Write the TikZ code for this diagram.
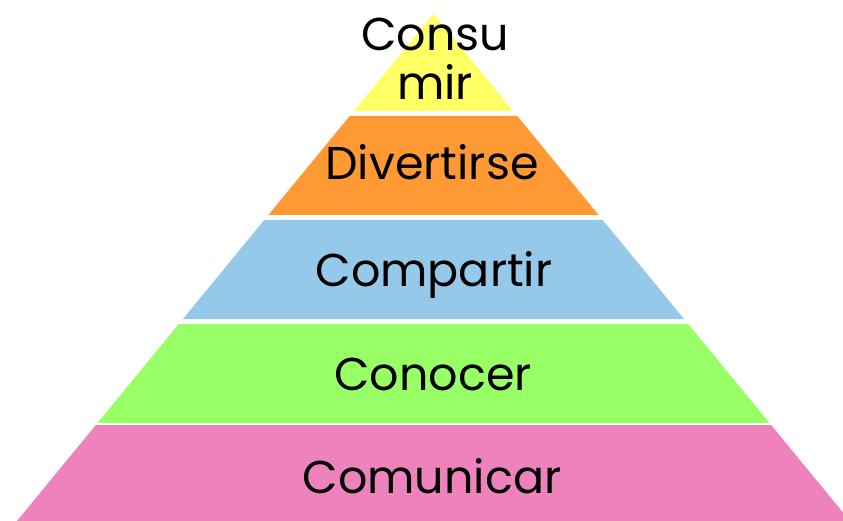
\documentclass[tikz,border=0pt]{standalone}
\usepackage{fontspec}
\setmainfont{Poppins}
\definecolor{amarillo}{HTML}{FFFF66}
\definecolor{naranja}{HTML}{FF9933}
\definecolor{celeste}{HTML}{95C9EA}
\definecolor{verde}{HTML}{99FF66}
\definecolor{rosa}{HTML}{EE82BD}
\begin{document}
\begin{tikzpicture}[x=1pt, y=-1pt, font=\fontsize{46}{49}\selectfont]
	\clip (0,0) rectangle (843,521);
	% capas de la piramide: arriba/abajo/color
	\foreach \a/\b/\c in {14/111/amarillo, 116/215/naranja, 220/319/celeste, 324/423/verde, 425/530/rosa}
		\fill[\c] ({433.5-0.8215*(\a-14)},\a) -- ({433.5+0.8215*(\a-14)},\a) -- ({433.5+0.8215*(\b-14)},\b) -- ({433.5-0.8215*(\b-14)},\b) -- cycle;
	\node[anchor=base, align=center, inner sep=0pt] (consumir) at (435,100) {Consu\\mir};
	\node[anchor=base, inner sep=0pt] (divertirse) at (432,180) {Divertirse};
	\node[anchor=base, inner sep=0pt] (compartir) at (434,287) {Compartir};
	\node[anchor=base, inner sep=0pt] (conocer) at (433,390) {Conocer};
	\node[anchor=base, inner sep=0pt] (comunicar) at (432,493) {Comunicar};
\end{tikzpicture}
\end{document}
